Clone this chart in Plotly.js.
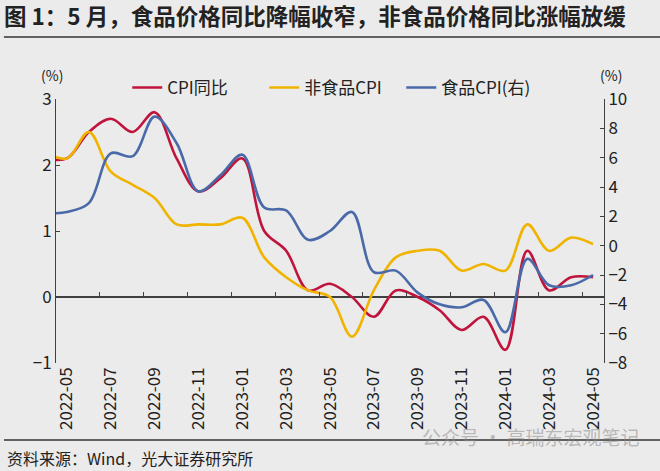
<!DOCTYPE html>
<html>
<head>
<meta charset="utf-8">
<script src="https://cdn.plot.ly/plotly-3.0.1.min.js"></script>
<style>
  html, body { margin: 0; padding: 0; background: #ebebeb; }
  #chart { width: 660px; height: 471px; }
</style>
</head>
<body>
<div id="chart"></div>
<script>
// 月份（含 2022-04 作为起点，被坐标轴裁掉）
var months = ['2022-04', '2022-05', '2022-06', '2022-07', '2022-08', '2022-09', '2022-10', '2022-11', '2022-12',
              '2023-01', '2023-02', '2023-03', '2023-04', '2023-05', '2023-06', '2023-07', '2023-08', '2023-09',
              '2023-10', '2023-11', '2023-12', '2024-01', '2024-02', '2024-03', '2024-04', '2024-05'];

// CPI 同比（左轴）
var cpi = [2.1, 2.1, 2.5, 2.7, 2.5, 2.8, 2.1, 1.6, 1.8,
           2.1, 1.0, 0.7, 0.1, 0.2, 0.0, -0.3, 0.1, 0.0, -0.2, -0.5, -0.3,
           -0.8, 0.7, 0.1, 0.3, 0.3];

// 非食品 CPI（左轴）
var nonFood = [2.2, 2.1, 2.5, 1.9, 1.7, 1.5, 1.1, 1.1, 1.1,
               1.2, 0.6, 0.3, 0.1, 0.0, -0.6, 0.1, 0.6, 0.7, 0.7, 0.4, 0.5,
               0.4, 1.1, 0.7, 0.9, 0.8];

// 食品 CPI（右轴）
var food = [2.2, 2.3, 2.9, 6.3, 6.1, 8.8, 7.0, 3.7, 4.8,
            6.2, 2.6, 2.4, 0.4, 1.0, 2.3, -1.8, -1.7, -3.2, -4.0, -4.2, -3.7,
            -5.9, -0.9, -2.7, -2.7, -2.0];

var idx = months.map(function (m, i) { return i; });

// 标签每两个月一个，从 2022-05 开始；刻度线放在两个月之间的边界上
var labelVals = [], labelText = [], boundVals = [];
for (var i = 1; i < months.length; i += 2) {
    labelVals.push(i);
    labelText.push(months[i]);
    if (i > 1) boundVals.push(i - 0.5);
}
boundVals.push(months.length - 1.5);

var font = '"Noto Sans CJK SC", "Noto Sans", sans-serif';
var axisColor = '#404040';

var trace1 = {
    x: idx, y: cpi, name: 'CPI同比', type: 'scatter', mode: 'lines',
    line: {color: '#c0143c', width: 2.6, shape: 'spline', smoothing: 1}
};

var trace2 = {
    x: idx, y: nonFood, name: '非食品CPI', type: 'scatter', mode: 'lines',
    line: {color: '#f0b400', width: 2.6, shape: 'spline', smoothing: 1}
};

var trace3 = {
    x: idx, y: food, name: '食品CPI(右)', type: 'scatter', mode: 'lines', yaxis: 'y2',
    line: {color: '#4a69a8', width: 2.6, shape: 'spline', smoothing: 1}
};

// 零轴上的刻度线用的占位轴
var dummy = {
    x: [1], y: [null], xaxis: 'x2', type: 'scatter', mode: 'lines',
    showlegend: false, hoverinfo: 'skip'
};

var data = [trace1, trace2, trace3, dummy];

var layout = {
    width: 660,
    height: 471,
    paper_bgcolor: '#ebebeb',
    plot_bgcolor: '#ebebeb',
    margin: {l: 56, r: 56, t: 99, b: 108},
    font: {family: font, color: '#222', size: 15},
    title: {
        text: '<b>图 1：5 月，食品价格同比降幅收窄，非食品价格同比涨幅放缓</b>',
        x: 0.006, xanchor: 'left', y: 1 - 17 / 471, yanchor: 'middle',
        font: {family: font, size: 22.5, color: '#222'}
    },
    showlegend: true,
    legend: {
        orientation: 'h', x: 0.13, xanchor: 'left', y: 1.042, yanchor: 'middle',
        bgcolor: 'rgba(0,0,0,0)', font: {size: 17, color: '#222'},
        itemwidth: 30, tracegroupgap: 0, entrywidth: 92, entrywidthmode: 'pixels'
    },
    xaxis: {
        range: [0.5, 25.5],
        tickmode: 'array', tickvals: labelVals, ticktext: labelText,
        tickangle: -90, ticks: '', showline: false, showgrid: false, zeroline: false,
        tickfont: {size: 17, color: '#222'}
    },
    xaxis2: {
        overlaying: 'x', anchor: 'free', position: 0.25, range: [0.5, 25.5],
        tickmode: 'array', tickvals: boundVals, ticks: 'inside', ticklen: 5,
        tickcolor: axisColor, tickwidth: 1, showticklabels: false,
        showline: false, showgrid: false, zeroline: false
    },
    yaxis: {
        range: [-1, 3], dtick: 1, ticks: 'inside', ticklen: 4, tickcolor: axisColor,
        showline: true, linecolor: axisColor, linewidth: 1, showgrid: false,
        zeroline: true, zerolinecolor: axisColor, zerolinewidth: 1.2,
        tickfont: {size: 17, color: '#222'}
    },
    yaxis2: {
        range: [-8, 10], dtick: 2, overlaying: 'y', side: 'right',
        ticks: 'inside', ticklen: 4, tickcolor: axisColor,
        showline: true, linecolor: axisColor, linewidth: 1, showgrid: false, zeroline: false,
        tickfont: {size: 17, color: '#222'}
    },
    shapes: [
        {type: 'line', xref: 'paper', yref: 'paper', x0: -0.095, x1: 1.104, y0: 1.235, y1: 1.235,
         line: {color: '#333', width: 1.5}},
        {type: 'line', xref: 'paper', yref: 'paper', x0: -0.095, x1: 1.104, y0: -0.292, y1: -0.292,
         line: {color: '#333', width: 1.5}}
    ],
    annotations: [
        {text: '(%)', xref: 'paper', yref: 'paper', x: -0.007, y: 1.09, xanchor: 'center', yanchor: 'middle',
         showarrow: false, font: {size: 14, color: '#222'}},
        {text: '(%)', xref: 'paper', yref: 'paper', x: 1.013, y: 1.09, xanchor: 'center', yanchor: 'middle',
         showarrow: false, font: {size: 14, color: '#222'}},
        {text: '资料来源：Wind，光大证券研究所', xref: 'paper', yref: 'paper', x: -0.093, y: -0.36,
         xanchor: 'left', yanchor: 'middle', showarrow: false, font: {size: 16, color: '#222'}},
        {text: '公众号 · 高瑞东宏观笔记', xref: 'paper', yref: 'paper', x: 1.07, y: -0.28,
         xanchor: 'right', yanchor: 'middle', showarrow: false, font: {size: 19, color: 'rgba(140,140,140,0.55)'}}
    ]
};

Plotly.newPlot('chart', data, layout, {displayModeBar: false, staticPlot: true});
</script>
</body>
</html>
